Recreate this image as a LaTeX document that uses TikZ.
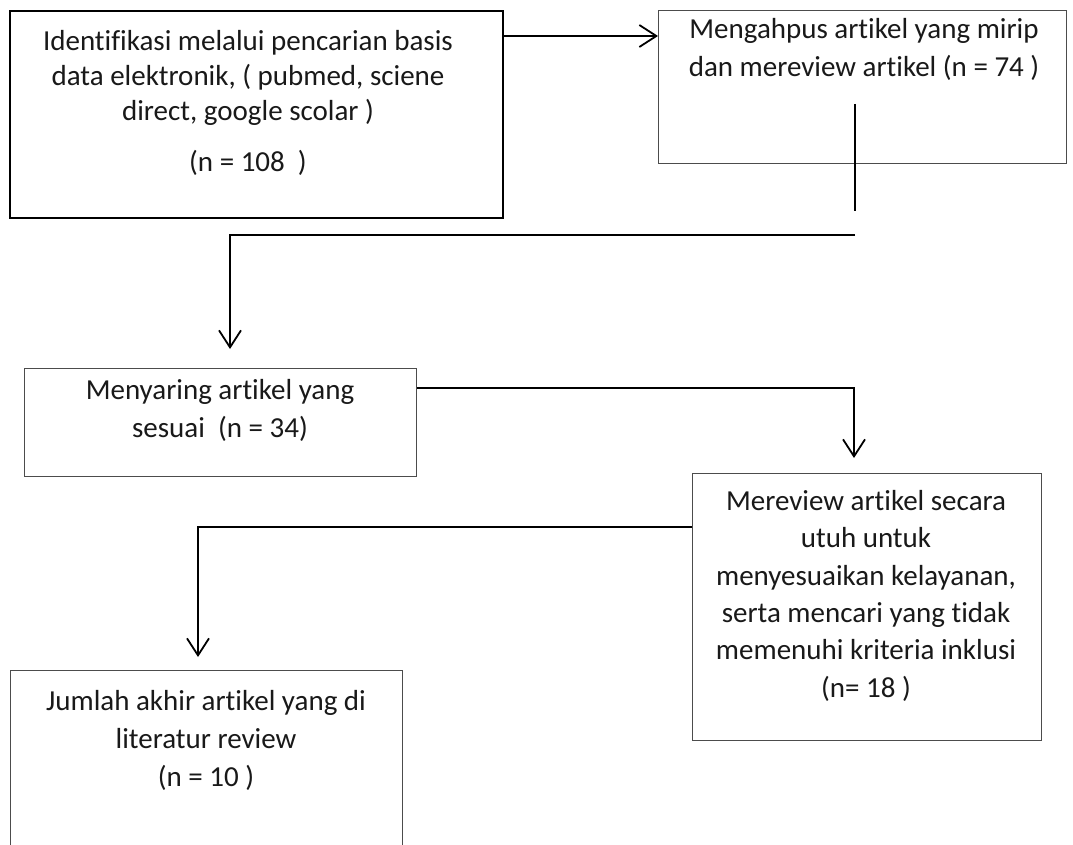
\documentclass[tikz,border=0pt]{standalone}
\usepackage{fontspec}
\setmainfont{Carlito}[Ligatures={NoCommon,NoContextual}]
\usetikzlibrary{arrows.meta,positioning}

\tikzset{
  kotak/.style={draw=black!70, line width=1pt, inner sep=0pt, anchor=north west},
  kotaktebal/.style={draw=black, line width=2pt, inner sep=0pt, anchor=north west},
  teks/.style={align=center, inner sep=0pt, anchor=north, text=black!90,
               font=\fontsize{29}{38}\selectfont},
  garis/.style={line width=1.8pt},
  panah/.style={garis, -{Straight Barb[length=17pt,width=22pt,line width=1.8pt]}},
}

\begin{document}
\begin{tikzpicture}[x=1pt,y=-1pt]
\useasboundingbox (0,0) rectangle (1073,845);
\fill[white] (0,0) rectangle (1073,845);
\clip (0,0) rectangle (1073,845);

% kotak
\node[kotaktebal, minimum width=493pt, minimum height=207pt] (ident) at (9,10) {};
\node[kotak, minimum width=408pt, minimum height=153pt] (hapus) at (658,10) {};
\node[kotak, minimum width=392pt, minimum height=108pt] (saring) at (24,368) {};
\node[kotak, minimum width=349pt, minimum height=267pt] (review) at (692,473) {};
\node[kotak, minimum width=392pt, minimum height=200pt] (akhir) at (10,670) {};

% teks
\node[teks, font=\fontsize{29}{35}\selectfont] (identteks) at (248,30)
  {Identifikasi melalui pencarian basis\\data elektronik, ( pubmed, sciene\\direct, google scolar )\\[16pt](n = 108\ \ )};
\node[teks] (hapusteks) at (864,18)
  {Mengahpus artikel yang mirip\\dan mereview artikel (n = 74 )};
\node[teks] (saringteks) at (220,379)
  {Menyaring artikel yang\\sesuai\ \ (n = 34)};
\node[teks, font=\fontsize{29}{37.4}\selectfont] (reviewteks) at (866,490)
  {Mereview artikel secara\\utuh untuk\\menyesuaikan kelayanan,\\serta mencari yang tidak\\memenuhi kriteria inklusi\\(n= 18 )};
\node[teks] (akhirteks) at (206,690)
  {Jumlah akhir artikel yang di\\literatur review\\(n = 10 )};

% garis
\coordinate (c0) at (0,36);
\draw[panah] (ident.east |- c0) -- (hapus.west |- c0);

\coordinate (p1) at (855,104);
\coordinate (p2) at (855,211);
\draw[garis] (p1) -- (p2);
\coordinate (p3) at (855,235);
\coordinate (p4) at (230,235);
\draw[panah] (p3) -- (p4) -- ([yshift=19pt]saring.north -| p4);

\coordinate (c1) at (854,388);
\draw[panah] (saring.east |- c1) -- (c1) -- ([yshift=15pt]review.north -| c1);

\coordinate (c2) at (198,527);
\draw[panah] (review.west |- c2) -- (c2) -- ([yshift=13pt]akhir.north -| c2);
\end{tikzpicture}
\end{document}
